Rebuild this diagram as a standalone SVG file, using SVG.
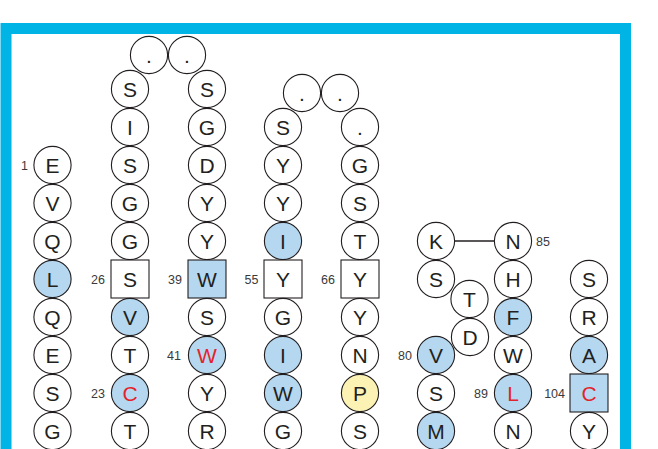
<svg xmlns="http://www.w3.org/2000/svg" width="658" height="449" viewBox="0 0 658 449">
<style>
.c{fill:#fff;stroke:#231f20;stroke-width:1.1}
.b{fill:#b5d8f0}
.y{fill:#fbf2b3}
.t{font-family:"Liberation Sans",Arial,sans-serif;font-size:21px;fill:#231f20;text-anchor:middle}
.r{fill:#e3242b}
.n{font-family:"Liberation Sans",Arial,sans-serif;font-size:12.5px;fill:#3a3a3a;text-anchor:end}
.s{font-family:"Liberation Sans",Arial,sans-serif;font-size:12.5px;fill:#3a3a3a;text-anchor:start}
</style>
<rect x="0" y="0" width="658" height="449" fill="#fff"/>
<rect x="6" y="28.5" width="619.5" height="480" fill="none" stroke="#00b4e6" stroke-width="11"/>
<g id="connectors">
<line x1="455" y1="241" x2="494" y2="241" stroke="#231f20" stroke-width="1.3"/>
</g>
<g id="col1">
<g id="n1"><circle class="c" cx="52.5" cy="165" r="18.6"/><text class="t" x="52.5" y="172.5">E</text></g>
<g id="n2"><circle class="c" cx="52.5" cy="203" r="18.6"/><text class="t" x="52.5" y="210.5">V</text></g>
<g id="n3"><circle class="c" cx="52.5" cy="241" r="18.6"/><text class="t" x="52.5" y="248.5">Q</text></g>
<g id="n4"><circle class="c b" cx="52.5" cy="279" r="18.6"/><text class="t" x="52.5" y="286.5">L</text></g>
<g id="n5"><circle class="c" cx="52.5" cy="317" r="18.6"/><text class="t" x="52.5" y="324.5">Q</text></g>
<g id="n6"><circle class="c" cx="52.5" cy="355" r="18.6"/><text class="t" x="52.5" y="362.5">E</text></g>
<g id="n7"><circle class="c" cx="52.5" cy="393" r="18.6"/><text class="t" x="52.5" y="400.5">S</text></g>
<g id="n8"><circle class="c" cx="52.5" cy="431" r="18.6"/><text class="t" x="52.5" y="438.5">G</text></g>
</g>
<g id="col2">
<g id="n9"><circle class="c" cx="130" cy="89" r="18.6"/><text class="t" x="130" y="96.5">S</text></g>
<g id="n10"><circle class="c" cx="130" cy="127" r="18.6"/><text class="t" x="130" y="134.5">I</text></g>
<g id="n11"><circle class="c" cx="130" cy="165" r="18.6"/><text class="t" x="130" y="172.5">S</text></g>
<g id="n12"><circle class="c" cx="130" cy="203" r="18.6"/><text class="t" x="130" y="210.5">G</text></g>
<g id="n13"><circle class="c" cx="130" cy="241" r="18.6"/><text class="t" x="130" y="248.5">G</text></g>
<g id="n14"><rect class="c" x="111" y="260" width="38" height="38"/><text class="t" x="130" y="286.5">S</text></g>
<g id="n15"><circle class="c b" cx="130" cy="317" r="18.6"/><text class="t" x="130" y="324.5">V</text></g>
<g id="n16"><circle class="c" cx="130" cy="355" r="18.6"/><text class="t" x="130" y="362.5">T</text></g>
<g id="n17"><circle class="c b" cx="130" cy="393" r="18.6"/><text class="t r" x="130" y="400.5">C</text></g>
<g id="n18"><circle class="c" cx="130" cy="431" r="18.6"/><text class="t" x="130" y="438.5">T</text></g>
</g>
<g id="loop1">
<g id="d1"><circle class="c" cx="149" cy="55" r="18.6"/><text class="t" x="149" y="62.5">.</text></g>
<g id="d2"><circle class="c" cx="187" cy="55" r="18.6"/><text class="t" x="187" y="62.5">.</text></g>
</g>
<g id="col3">
<g id="n19"><circle class="c" cx="207" cy="89" r="18.6"/><text class="t" x="207" y="96.5">S</text></g>
<g id="n20"><circle class="c" cx="207" cy="127" r="18.6"/><text class="t" x="207" y="134.5">G</text></g>
<g id="n21"><circle class="c" cx="207" cy="165" r="18.6"/><text class="t" x="207" y="172.5">D</text></g>
<g id="n22"><circle class="c" cx="207" cy="203" r="18.6"/><text class="t" x="207" y="210.5">Y</text></g>
<g id="n23"><circle class="c" cx="207" cy="241" r="18.6"/><text class="t" x="207" y="248.5">Y</text></g>
<g id="n24"><rect class="c b" x="188" y="260" width="38" height="38"/><text class="t" x="207" y="286.5">W</text></g>
<g id="n25"><circle class="c" cx="207" cy="317" r="18.6"/><text class="t" x="207" y="324.5">S</text></g>
<g id="n26"><circle class="c b" cx="207" cy="355" r="18.6"/><text class="t r" x="207" y="362.5">W</text></g>
<g id="n27"><circle class="c" cx="207" cy="393" r="18.6"/><text class="t" x="207" y="400.5">Y</text></g>
<g id="n28"><circle class="c" cx="207" cy="431" r="18.6"/><text class="t" x="207" y="438.5">R</text></g>
</g>
<g id="col4">
<g id="n29"><circle class="c" cx="283" cy="127" r="18.6"/><text class="t" x="283" y="134.5">S</text></g>
<g id="n30"><circle class="c" cx="283" cy="165" r="18.6"/><text class="t" x="283" y="172.5">Y</text></g>
<g id="n31"><circle class="c" cx="283" cy="203" r="18.6"/><text class="t" x="283" y="210.5">Y</text></g>
<g id="n32"><circle class="c b" cx="283" cy="241" r="18.6"/><text class="t" x="283" y="248.5">I</text></g>
<g id="n33"><rect class="c" x="264" y="260" width="38" height="38"/><text class="t" x="283" y="286.5">Y</text></g>
<g id="n34"><circle class="c" cx="283" cy="317" r="18.6"/><text class="t" x="283" y="324.5">G</text></g>
<g id="n35"><circle class="c b" cx="283" cy="355" r="18.6"/><text class="t" x="283" y="362.5">I</text></g>
<g id="n36"><circle class="c b" cx="283" cy="393" r="18.6"/><text class="t" x="283" y="400.5">W</text></g>
<g id="n37"><circle class="c" cx="283" cy="431" r="18.6"/><text class="t" x="283" y="438.5">G</text></g>
</g>
<g id="loop2">
<g id="d3"><circle class="c" cx="302" cy="93" r="18.6"/><text class="t" x="302" y="100.5">.</text></g>
<g id="d4"><circle class="c" cx="340" cy="93" r="18.6"/><text class="t" x="340" y="100.5">.</text></g>
<g id="d5"><circle class="c" cx="360" cy="127" r="18.6"/><text class="t" x="360" y="134.5">.</text></g>
</g>
<g id="col5">
<g id="n38"><circle class="c" cx="360" cy="165" r="18.6"/><text class="t" x="360" y="172.5">G</text></g>
<g id="n39"><circle class="c" cx="360" cy="203" r="18.6"/><text class="t" x="360" y="210.5">S</text></g>
<g id="n40"><circle class="c" cx="360" cy="241" r="18.6"/><text class="t" x="360" y="248.5">T</text></g>
<g id="n41"><rect class="c" x="341" y="260" width="38" height="38"/><text class="t" x="360" y="286.5">Y</text></g>
<g id="n42"><circle class="c" cx="360" cy="317" r="18.6"/><text class="t" x="360" y="324.5">Y</text></g>
<g id="n43"><circle class="c" cx="360" cy="355" r="18.6"/><text class="t" x="360" y="362.5">N</text></g>
<g id="n44"><circle class="c y" cx="360" cy="393" r="18.6"/><text class="t" x="360" y="400.5">P</text></g>
<g id="n45"><circle class="c" cx="360" cy="431" r="18.6"/><text class="t" x="360" y="438.5">S</text></g>
</g>
<g id="col6">
<g id="n46"><circle class="c" cx="436" cy="241" r="18.6"/><text class="t" x="436" y="248.5">K</text></g>
<g id="n47"><circle class="c" cx="436" cy="279" r="18.6"/><text class="t" x="436" y="286.5">S</text></g>
<g id="n48"><circle class="c" cx="469.5" cy="299" r="18.6"/><text class="t" x="469.5" y="306.5">T</text></g>
<g id="n49"><circle class="c" cx="470" cy="337" r="18.6"/><text class="t" x="470" y="344.5">D</text></g>
<g id="n50"><circle class="c b" cx="436" cy="355" r="18.6"/><text class="t" x="436" y="362.5">V</text></g>
<g id="n51"><circle class="c" cx="436" cy="393" r="18.6"/><text class="t" x="436" y="400.5">S</text></g>
<g id="n52"><circle class="c b" cx="436" cy="431" r="18.6"/><text class="t" x="436" y="438.5">M</text></g>
</g>
<g id="col7">
<g id="n53"><circle class="c" cx="513" cy="241" r="18.6"/><text class="t" x="513" y="248.5">N</text></g>
<g id="n54"><circle class="c" cx="513" cy="279" r="18.6"/><text class="t" x="513" y="286.5">H</text></g>
<g id="n55"><circle class="c b" cx="513" cy="317" r="18.6"/><text class="t" x="513" y="324.5">F</text></g>
<g id="n56"><circle class="c" cx="513" cy="355" r="18.6"/><text class="t" x="513" y="362.5">W</text></g>
<g id="n57"><circle class="c b" cx="513" cy="393" r="18.6"/><text class="t r" x="513" y="400.5">L</text></g>
<g id="n58"><circle class="c" cx="513" cy="431" r="18.6"/><text class="t" x="513" y="438.5">N</text></g>
</g>
<g id="col8">
<g id="n59"><circle class="c" cx="589" cy="279" r="18.6"/><text class="t" x="589" y="286.5">S</text></g>
<g id="n60"><circle class="c" cx="589" cy="317" r="18.6"/><text class="t" x="589" y="324.5">R</text></g>
<g id="n61"><circle class="c b" cx="589" cy="355" r="18.6"/><text class="t" x="589" y="362.5">A</text></g>
<g id="n62"><rect class="c b" x="570" y="374" width="38" height="38"/><text class="t r" x="589" y="400.5">C</text></g>
<g id="n63"><circle class="c" cx="589" cy="431" r="18.6"/><text class="t" x="589" y="438.5">Y</text></g>
</g>
<g id="labels">
<text class="n" x="28" y="169.5">1</text>
<text class="n" x="105" y="283.5">26</text>
<text class="n" x="182" y="283.5">39</text>
<text class="n" x="258.5" y="283.5">55</text>
<text class="n" x="335" y="283.5">66</text>
<text class="n" x="181" y="359.5">41</text>
<text class="n" x="105" y="397.5">23</text>
<text class="n" x="412" y="359.5">80</text>
<text class="n" x="488" y="397.5">89</text>
<text class="n" x="565" y="397.5">104</text>
<text class="s" x="536" y="245.5">85</text>
</g>
</svg>
